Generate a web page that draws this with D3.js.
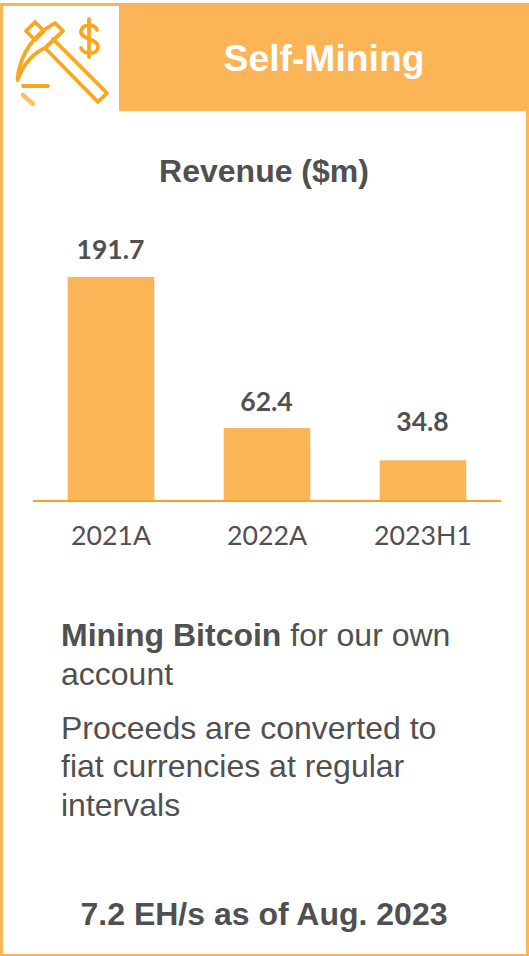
<!DOCTYPE html>
<html>
<head>
<meta charset="utf-8">
<script src="https://cdn.jsdelivr.net/npm/d3@7"></script>
<style>
html,body{margin:0;padding:0;background:#fff;overflow:hidden}
svg{display:block}
</style>
</head>
<body>
<svg id="panel" width="529" height="956"></svg>
<script>
const categories = ["2021A", "2022A", "2023H1"];
const revenue = [191.7, 62.4, 34.8];
const valueLabels = ["191.7", "62.4", "34.8"];

const ORANGE = "#fbb556", AXIS = "#fca226", INK = "#505050";
const svg = d3.select("#panel");
const sans = "'Liberation Sans', Arial, sans-serif";

// Card frame and header band
svg.append("rect").attr("x", 1.5).attr("y", 4.5).attr("width", 526).attr("height", 951)
  .attr("fill", "#fff").attr("stroke", ORANGE).attr("stroke-width", 3);
svg.append("rect").attr("x", 119).attr("y", 3).attr("width", 410).attr("height", 108).attr("fill", ORANGE);
svg.append("text").attr("x", 324).attr("y", 71).attr("text-anchor", "middle")
  .attr("font-family", sans).attr("font-weight", 700).attr("font-size", 37.3).attr("fill", "#fff")
  .text("Self-Mining");

// Pickaxe and dollar emblem
const icon = svg.append("g").attr("fill", "none").attr("stroke", "#fba61f")
  .attr("stroke-width", 3.8).attr("stroke-linejoin", "round").attr("stroke-linecap", "round");
icon.append("path").attr("d", "M17.5 80 C19 60 27 44 44 30 L55 23 L63 31 L45 48 C32 54 23 65 17.5 80 Z");
icon.append("path").attr("d", "M35 22 L26 31 L35 40 L44 31 Z");
icon.append("path").attr("d", "M45 48 L98 102 L107 93 L53 39");
icon.append("path").attr("d", "M23 86 L48 86");
icon.append("path").attr("d", "M23 95 L33 104").attr("stroke-width", 4.5).attr("opacity", 0.7);
icon.append("path").attr("d", "M97 30 C96 24 82 23 81 31 C80 40 98 38 98 47 C98 55 83 55 81 48 M89 19 L89 57");

// Chart title
svg.append("text").attr("x", 264).attr("y", 182).attr("text-anchor", "middle")
  .attr("font-family", sans).attr("font-weight", 700).attr("font-size", 32).attr("fill", INK)
  .text("Revenue ($m)");

// Revenue bars
const x = d3.scaleBand().domain(categories).range([33, 501]).paddingInner(0.445).paddingOuter(0.2225);
const y = d3.scaleLinear().domain([0, 191.7]).range([501, 277]);
const rows = categories.map((c, i) => ({c, v: revenue[i], label: valueLabels[i]}));

svg.append("g").selectAll("rect").data(rows).join("rect")
  .attr("x", d => x(d.c)).attr("y", d => y(d.v))
  .attr("width", x.bandwidth()).attr("height", d => y(0) - y(d.v))
  .attr("fill", ORANGE);

// The shortest bar's label sits further above its bar than the others
svg.append("g").selectAll("text").data(rows).join("text")
  .attr("x", d => x(d.c) + x.bandwidth() / 2 - 0.5)
  .attr("y", d => y(d.v) - (d.v < 40 ? 29 : d.v < 100 ? 17 : 18))
  .attr("text-anchor", "middle").attr("font-family", "Lato, sans-serif")
  .attr("font-weight", 700).attr("font-size", 26.5).attr("fill", INK)
  .text(d => d.label);

const axis = svg.append("g").attr("transform", "translate(0,501)")
  .call(d3.axisBottom(x).tickSize(0).tickPadding(25));
axis.select(".domain").attr("stroke", AXIS).attr("stroke-width", 2).attr("d", "M33,0H501");
axis.selectAll("text").attr("font-family", "Lato, sans-serif").attr("font-size", 26.7).attr("fill", INK);

// Description copy
const para = svg.append("g").attr("font-family", sans).attr("font-size", 32).attr("fill", INK);
const first = para.append("text").attr("x", 61).attr("y", 646);
first.append("tspan").attr("font-weight", 700).text("Mining Bitcoin");
first.append("tspan").text(" for our own");
[["account", 685], ["Proceeds are converted to", 739], ["fiat currencies at regular", 777], ["intervals", 816]]
  .forEach(([t, py]) => para.append("text").attr("x", 61).attr("y", py).text(t));

// Hash-rate footer
svg.append("text").attr("x", 264).attr("y", 925).attr("text-anchor", "middle")
  .attr("font-family", sans).attr("font-weight", 700).attr("font-size", 32).attr("fill", INK)
  .text("7.2 EH/s as of Aug. 2023");
</script>
</body>
</html>
